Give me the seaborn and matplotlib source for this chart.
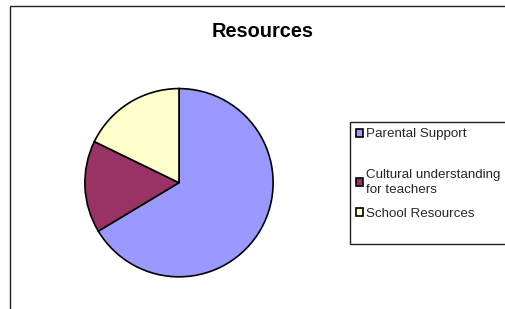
import matplotlib
matplotlib.use("Agg")
import matplotlib.pyplot as plt
import seaborn as sns
from matplotlib.patches import Rectangle

# data (share of the pie, %)
categories = ["Parental Support", "Cultural understanding\nfor teachers", "School Resources"]
shares = [66.4, 15.8, 17.8]
palette = ["#9999FF", "#993366", "#FFFFCC"]

sns.set_theme(style="white")
plt.rcParams['font.family'] = ['Liberation Sans', 'DejaVu Sans']

W, H = 505, 309
fig = plt.figure(figsize=(W / 100, H / 100), dpi=100)

# outer chart frame (runs past right / bottom edge like the original)
fig.patches.append(Rectangle((10 / W, -0.1), 1.2, 1 - 6 / H + 0.1, transform=fig.transFigure,
                             fill=False, edgecolor="#222222", linewidth=1.0, figure=fig))

# pie axes: centre (179, 182.7) px, radius 96 px
cx, cy, r = 179, 182.7, 96
ax = fig.add_axes([(cx - r) / W, (H - cy - r) / H, 2 * r / W, 2 * r / H])
wedges, _ = ax.pie(shares, colors=sns.color_palette(palette), startangle=90, counterclock=False,
                   radius=1, wedgeprops=dict(edgecolor="black", linewidth=1.2))
ax.set_xlim(-1.02, 1.02)
ax.set_ylim(-1.02, 1.02)
ax.set_aspect("equal")
ax.axis("off")

fig.text(263 / W, 1 - 31.7 / H, "Resources", ha="center", va="center",
         fontsize=14.4, fontweight="bold", color="black")

# legend box
fig.patches.append(Rectangle((350 / W, 1 - 244 / H), 0.5, 122 / H, transform=fig.transFigure,
                             facecolor="white", edgecolor="#222222", linewidth=1.0, figure=fig))

# one legend per entry so the spacing follows the original
entry_y = [134.3, 182.5, 214.0]
for w, lab, yy in zip(wedges, categories, entry_y):
    leg = fig.legend([w], [lab], loc="center left", bbox_to_anchor=(356 / W, 1 - yy / H),
                     bbox_transform=fig.transFigure, frameon=False, fontsize=9.6,
                     handlelength=0.55, handleheight=0.55, handletextpad=0.2,
                     borderpad=0, borderaxespad=0)
    for t in leg.get_texts():
        t.set_linespacing(1.25)

fig.savefig("out.png", dpi=100)
